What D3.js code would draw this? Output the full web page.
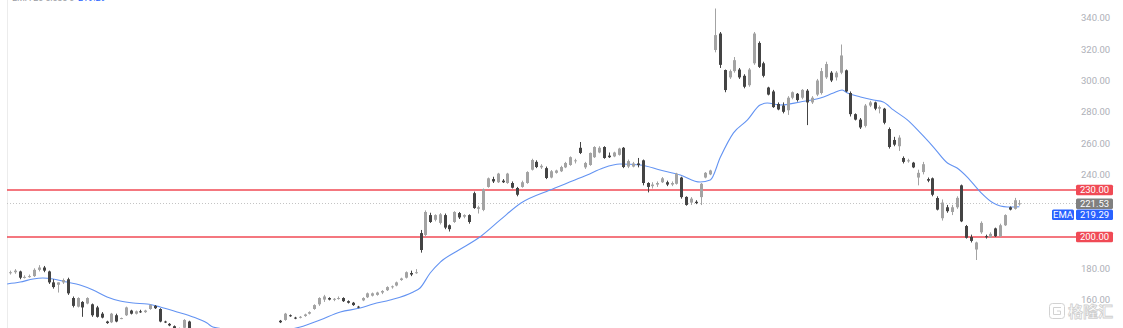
<!DOCTYPE html>
<html>
<head>
<meta charset="utf-8">
<script src="https://cdn.jsdelivr.net/npm/d3@7"></script>
<style>
  body { margin: 0; background: #fff; }
  svg { display: block; font-family: Roboto, "Noto Sans", sans-serif; }
</style>
</head>
<body>
<svg id="chart" width="1123" height="328"></svg>
<script>
// price axis ticks
const priceTicks = [160, 180, 200, 220, 240, 260, 280, 300, 320, 340];
// horizontal support / resistance levels
const levels = [230, 200];
const lastPrice = 221.53;
const emaLast = 219.29;

// daily candles, [open, high, low, close]
const ohlc = [
  [177, 178.5, 176, 177.5], [177.5, 179.5, 176.5, 178.5], [178, 178.5, 173, 174], [174, 175.5, 173.5, 174.5],
  [174.5, 176, 174, 175], [175, 180, 174.5, 179], [179, 182, 178, 180.5], [180.5, 181.5, 177.5, 178.5],
  [178, 178.5, 170, 171], [171, 173, 167, 168], [169.5, 171, 164.5, 171], [171, 173.5, 170, 172.5],
  [173, 174, 163, 164], [161, 162, 155, 156], [155.5, 161.5, 155, 161], [158.5, 159, 149, 155],
  [157.5, 161.5, 157, 161], [157, 157.5, 149, 150], [155, 156, 148.5, 149], [151, 152, 148, 148.5],
  [146, 146.5, 144.5, 145], [145.5, 151.5, 145, 151], [150, 151, 145.5, 146], [148, 148.5, 147.5, 148.2],
  [150, 155.5, 149.5, 155], [153, 153.5, 150.5, 151], [151, 153, 150.5, 152.5], [152.5, 153.5, 151.5, 152],
  [152, 153.5, 151.5, 153], [154, 157, 153.5, 156.5], [156, 156.5, 154, 154.5], [154, 154.5, 145.5, 146],
  [146, 146.5, 145, 145.5], [144.5, 145, 143, 143.5], [143, 143.5, 141, 141.5], [141.5, 142, 139, 140],
  [142, 147.5, 141, 147], [146, 146.5, 139, 140], [140, 141, 135, 136], [136, 138, 133, 137],
  [137, 139, 134, 135], [135, 136, 131, 132], [132, 135, 130, 134], [134, 136, 132, 133],
  [133, 135, 129, 130], [130, 133, 128, 132], [132, 134, 130, 131], [131, 136, 130, 135],
  [135, 137, 133, 134], [134, 136, 131, 133], [133, 138, 132, 137], [137, 139, 135, 136],
  [136, 140, 135, 139], [139, 141, 137, 138], [138, 141, 137, 140], [140, 141.5, 138, 141],
  [146.5, 147, 145, 145.5], [147, 151.5, 146.5, 151], [150, 150.5, 149, 149.5], [148.5, 149, 147.5, 148],
  [148.5, 149.5, 148, 149], [149.5, 151, 149, 150.5], [151, 152.5, 150.5, 152], [154, 157, 153.5, 156.5],
  [157, 161.5, 156, 161], [160, 163, 158.5, 162], [161, 161.5, 159.5, 160], [160, 161, 159, 160.5],
  [160.5, 162, 160, 161], [161, 161.5, 158.5, 159], [159, 159.5, 157.5, 158], [158, 158.5, 156, 156.5],
  [155.5, 156, 154.5, 155], [159.5, 161.5, 159, 161], [161.5, 164.5, 161, 164], [162.5, 164.5, 162, 164],
  [163, 165, 162.5, 164.5], [164.5, 166, 163.5, 165.5], [166, 168.5, 165.5, 168], [168, 169, 167, 168.5],
  [169, 171.5, 168.5, 171], [172.5, 174, 172, 173.5], [174, 178, 173.5, 177.5], [177, 178.5, 175, 176],
  [177, 179.5, 176.5, 177.5], [202.5, 204.5, 190, 191.7], [201.3, 217, 200, 216], [214, 215.5, 209, 209.6],
  [211, 214.5, 210, 214], [209, 215.3, 208, 214.5], [214, 215, 205, 206], [207.5, 208, 203.5, 205],
  [209.6, 216.5, 209, 216], [215.3, 216, 211.5, 212.5], [213, 214.5, 212, 214], [214, 214.5, 208.5, 209.6],
  [228, 229, 218, 218.5], [218, 220, 215, 219], [217.3, 231, 216.5, 230.5], [232, 238, 231.5, 237.5],
  [237, 238.5, 234.5, 235.5], [235, 241, 234.5, 240.5], [236, 237, 234.5, 235], [234.5, 241, 234, 240.5],
  [234.5, 235.5, 231, 231.5], [231.3, 232, 226, 227], [232, 236, 231.5, 235], [234.5, 242, 234, 241.5],
  [243, 250, 242.5, 249.2], [248, 249, 244, 244.7], [244.5, 246.5, 243.5, 245.5], [244, 245, 237, 237.7],
  [238, 242.8, 237.5, 242], [241, 243, 240.5, 242.5], [242, 245.5, 241.5, 244.7], [244.5, 248, 244, 247.3],
  [246, 251.5, 245.5, 251], [248.5, 250, 247, 249], [257, 260.7, 253, 253.7], [244.5, 248, 243.5, 247.3],
  [246, 254, 245.5, 253.7], [251, 258, 250.5, 257.5], [254, 258, 253.5, 257], [257.5, 258, 250, 250.5],
  [252, 254, 250.5, 251], [251.5, 254.5, 251, 254], [252.5, 257, 252, 256.5], [257, 257.5, 244, 244.7],
  [245, 249.5, 244, 248.5], [245, 248, 244.5, 247], [247, 250.5, 244.5, 246], [249, 249.5, 233, 234.5],
  [234.5, 235, 228.5, 232], [232.5, 235, 231, 233.5], [233.5, 235.5, 232, 234.5], [235, 238.3, 234.5, 237.5],
  [235, 236, 232.5, 233.5], [233.5, 235.5, 232.5, 234.5], [234, 241, 233.5, 240.5], [238, 238.5, 224.5, 225.5],
  [225.6, 226, 220, 220.5], [222, 225.5, 220.5, 224.5], [222.5, 223.5, 221, 221.7], [225.5, 234.5, 220.4, 234],
  [238, 241.5, 237.5, 241], [240, 243, 239.5, 242.5], [319.5, 346, 318, 329], [330, 331, 308, 310],
  [306.7, 307, 292.5, 293.9], [302, 307, 301, 306], [306, 315, 305, 313], [307, 308, 301, 302],
  [303, 304, 295, 296], [297, 308, 296, 307], [311, 331, 310, 330], [324, 325, 308, 308.7],
  [311, 312, 302, 303], [295.5, 296, 290.5, 291], [293, 294, 282.5, 283], [285, 286, 281, 281.5],
  [284, 286, 279, 280], [281, 290, 278, 289], [289, 293, 288, 292.5], [291.5, 292, 286.5, 287.5],
  [289, 294.5, 288, 294], [293.5, 294.5, 271.5, 286], [286, 290, 285, 289], [291, 301, 290, 300],
  [292, 308, 291, 306], [302, 312, 301, 310.5], [305, 306, 299, 300], [302, 306, 300, 305],
  [305, 323, 304, 316], [306.5, 307, 292.5, 293], [292, 293, 277, 278.5], [278.5, 279, 274.5, 275],
  [275, 276, 269, 270], [271, 285, 270, 284], [284, 287, 283, 286], [286, 286.5, 281, 282],
  [282, 284, 279, 283], [282, 282.5, 272, 273], [269, 270, 256.5, 257.5], [262, 264, 258, 259],
  [258, 265, 255, 263.5], [250.5, 251.5, 247, 248], [248.5, 250, 247.5, 249], [247.5, 248, 244, 244.5],
  [238, 243, 233, 241], [241.5, 248, 240, 246.5], [237, 238, 235, 236], [237.5, 238, 226, 227],
  [224.9, 226, 217, 217.5], [212, 224, 210.5, 222], [219, 220.5, 215.5, 216.5], [216, 220.5, 214, 219],
  [219, 226, 218, 225], [233, 233.5, 209.5, 210], [207, 207.7, 199, 199.5], [200, 201.5, 196.5, 197.5],
  [192, 197, 185.3, 196.5], [203, 210, 202, 209], [200.5, 201.5, 199, 200], [200, 203, 199.5, 202],
  [205.5, 206, 200, 200.5], [200.5, 208.5, 200, 207.5], [207.5, 214.5, 207, 214], [219, 219.5, 217, 217.5],
  [218, 225, 217.5, 223.5], [221, 223.6, 220, 221.53]
];

// EMA at these candle positions
const emaIdx = [-0.6, 2.1, 4.8, 6.8, 8.9, 11.8, 14.5, 17.2, 20.1, 22.8, 25.5, 28.4, 31.1, 34.6, 37.9, 40.8, 42,
  46.6, 51.8, 57, 60.1, 64.2, 68.4, 72.5, 75.2, 78.7, 83.5, 84.9, 87, 89.1, 92.6, 97.3, 101.5, 105.8, 111.8,
  115.4, 119.5, 122.8, 126.3, 130.5, 134.6, 138.8, 142.9, 145, 147.1, 149.8, 152.7, 155.3, 156.8, 159.5,
  163.6, 167.8, 170.5, 172.3, 173.4, 176.1, 178.8, 180.8, 182.9, 185.8, 188.5, 191.2, 194.1, 196.1, 198.2,
  200.9, 203.6, 206.5, 207.7, 209];
const emaVal = [170.0, 171.2, 173.2, 173.8, 173.2, 171.2, 169.3, 166.1, 161.7, 159.1, 157.8, 157.2, 155.3, 152.1, 148.9, 145.0, 142.5,
  140.5, 139.5, 140.5, 142.5, 147.0, 152.1, 154.6, 157.2, 159.7, 164.9, 167.4, 177.0, 184.0, 191.1, 200, 210.9, 221.7, 230,
  234.5, 239.6, 244.1, 246.6, 246.0, 242.8, 239.6, 235.1, 236.4, 251.1, 266.5, 274.8, 284.3, 285.6, 284.3,
  286.3, 288.8, 292.0, 293.9, 292.0, 289.5, 287.5, 286.3, 281.2, 274.8, 266.5, 257.5, 247.3, 244.1, 238.3,
  228.8, 221.7, 219.2, 219.2, 219.29];

const svg = d3.select("#chart");
const W = 1123, H = 328;
const plotLeft = 7, plotRight = 1076;

const x = d3.scaleLinear().domain([0, ohlc.length - 1]).range([10, 1019.4]);
const y = d3.scaleLinear().domain([200, 340]).range([237, 17.9]);

svg.append("defs").append("clipPath").attr("id", "plot")
  .append("rect").attr("x", plotLeft).attr("y", 0).attr("width", plotRight - plotLeft).attr("height", H);

// faint left border
svg.append("line").attr("x1", plotLeft + 0.5).attr("x2", plotLeft + 0.5).attr("y1", 0).attr("y2", H)
  .attr("stroke", "#ececec");

// cut-off legend at the very top
svg.append("text").attr("x", 12).attr("y", 0.5).attr("font-size", 9).attr("fill", "#9a9ca3").text("EMA 20 close 0");
svg.append("text").attr("x", 78).attr("y", 0.5).attr("font-size", 9).attr("fill", "#2962ff").text(emaLast.toFixed(2));

const plot = svg.append("g").attr("clip-path", "url(#plot)");

// last price dotted line
plot.append("line").attr("x1", plotLeft).attr("x2", plotRight)
  .attr("y1", Math.round(y(lastPrice)) + 0.5).attr("y2", Math.round(y(lastPrice)) + 0.5)
  .attr("stroke", "#c4c4c4").attr("stroke-dasharray", "1,2");

// red levels
plot.selectAll(".level").data(levels).enter().append("line")
  .attr("class", "level")
  .attr("x1", plotLeft).attr("x2", plotRight)
  .attr("y1", d => y(d)).attr("y2", d => y(d))
  .attr("stroke", "#f04a55").attr("stroke-width", 1.6);

// EMA
const emaLine = d3.line().x(d => x(d[0])).y(d => y(d[1])).curve(d3.curveMonotoneX);
plot.append("path").datum(emaIdx.map((d, i) => [d, emaVal[i]]))
  .attr("d", emaLine).attr("fill", "none").attr("stroke", "#6393f2").attr("stroke-width", 1.1);

// candles
const up = "#a3a3a3", down = "#444444";
const bw = 3;
const candles = plot.selectAll(".candle").data(ohlc).enter().append("g").attr("class", "candle");
candles.append("line")
  .attr("x1", (d, i) => Math.round(x(i)) + 0.5).attr("x2", (d, i) => Math.round(x(i)) + 0.5)
  .attr("y1", d => y(d[1])).attr("y2", d => y(d[2]))
  .attr("stroke", d => d[3] >= d[0] ? up : down);
candles.append("rect")
  .attr("x", (d, i) => Math.round(x(i)) + 0.5 - bw / 2)
  .attr("y", d => y(Math.max(d[0], d[3])))
  .attr("width", bw)
  .attr("height", d => Math.max(1, Math.abs(y(d[0]) - y(d[3]))))
  .attr("fill", d => d[3] >= d[0] ? up : down);

// price axis
const axis = svg.append("g").attr("transform", "translate(1081,0)")
  .call(d3.axisRight(y).tickValues(priceTicks).tickFormat(d3.format(".2f")).tickSize(0).tickPadding(0));
axis.select(".domain").remove();
axis.selectAll("text").attr("fill", "#aeb0b8").attr("font-size", 9.5).attr("font-family", "Roboto, sans-serif");

// axis tags
function tag(x0, w, cy, label, color) {
  svg.append("rect").attr("x", x0).attr("y", cy - 5.25).attr("width", w).attr("height", 10.5)
    .attr("rx", 1.5).attr("fill", color);
  svg.append("text").attr("x", x0 + w / 2).attr("y", cy).attr("dy", "0.35em")
    .attr("text-anchor", "middle").attr("font-size", 9.5).attr("fill", "#fff").text(label);
}
levels.forEach(v => tag(1076, 37, y(v), v.toFixed(2), "#f04a55"));
tag(1076, 37, y(lastPrice) + 0.5, lastPrice.toFixed(2), "#808080");
tag(1076, 37, y(lastPrice) + 11.5, emaLast.toFixed(2), "#2962ff");
tag(1052, 22, y(lastPrice) + 11.5, "EMA", "#2962ff");

// watermark
const wm = svg.append("g").attr("fill", "none").attr("stroke", "#d2d2d2").attr("stroke-width", 1);
wm.append("rect").attr("x", 1049.5).attr("y", 303.5).attr("width", 15).attr("height", 15).attr("rx", 3);
wm.append("path").attr("d", "M1061,307.5 H1053.5 V314.5 H1060.5 V311 H1057");
svg.append("text").attr("x", 1068).attr("y", 317).attr("font-size", 15).attr("font-weight", "bold")
  .attr("font-family", "'Noto Sans CJK SC', sans-serif")
  .attr("fill", "#fff").attr("stroke", "#cfcfcf").attr("stroke-width", 0.8).text("格隆汇");
</script>
</body>
</html>
